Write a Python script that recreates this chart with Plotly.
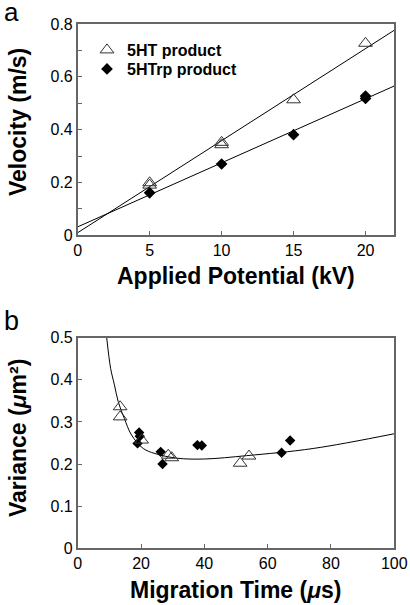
import numpy as np
import plotly.graph_objects as go

# ---- Panel a data ----
potential_ht = [5, 5, 10, 10, 15, 20]
velocity_ht = [0.19, 0.199, 0.343, 0.352, 0.513, 0.727]
potential_trp = [5, 10, 15, 20, 20]
velocity_trp = [0.161, 0.270, 0.381, 0.518, 0.527]

# ---- Panel b data ----
time_ht = [13.4, 13.4, 20.2, 28.6, 29.7, 51.3, 54.1]
var_ht = [0.336, 0.312, 0.257, 0.221, 0.215, 0.202, 0.219]
time_trp = [19.4, 19.6, 18.9, 26.2, 26.8, 37.8, 39.2, 64.4, 67.1]
var_trp = [0.275, 0.266, 0.249, 0.229, 0.200, 0.245, 0.244, 0.227, 0.256]
# fitted curve
curve_t = [9.16, 10.4, 11.6, 12.8, 14.7, 17.0, 20.7, 24.4, 31.3, 40, 53.4, 74.4, 100]
curve_v = [0.5, 0.427, 0.388, 0.348, 0.309, 0.269, 0.237, 0.225, 0.214, 0.212, 0.220, 0.237, 0.272]

FW, FH = 410, 605
def fx(x): return x / FW
def fy(y): return 1 - y / FH

fig = go.Figure()

# linear fits for panel a
xfit = np.array([0, 22])
for xs, ys in [(potential_ht, velocity_ht), (potential_trp, velocity_trp)]:
    m, b = np.polyfit(xs, ys, 1)
    fig.add_trace(go.Scatter(x=xfit, y=m * xfit + b, mode="lines",
                             line=dict(color="black", width=1), showlegend=False,
                             xaxis="x", yaxis="y", hoverinfo="skip"))

fig.add_trace(go.Scatter(x=potential_ht, y=velocity_ht, mode="markers", name="5HT product",
                         marker=dict(symbol="triangle-up-open", size=12, color="#333",
                                     line=dict(width=1)),
                         xaxis="x", yaxis="y", legend="legend"))
fig.add_trace(go.Scatter(x=potential_trp, y=velocity_trp, mode="markers", name="5HTrp product",
                         marker=dict(symbol="diamond", size=9, color="black"),
                         xaxis="x", yaxis="y", legend="legend2"))

# panel b
fig.add_trace(go.Scatter(x=curve_t, y=curve_v, mode="lines", line=dict(color="black", width=1, shape="spline"),
                         showlegend=False, xaxis="x2", yaxis="y2", hoverinfo="skip"))
fig.add_trace(go.Scatter(x=time_trp, y=var_trp, mode="markers", showlegend=False,
                         marker=dict(symbol="diamond", size=8, color="black"),
                         xaxis="x2", yaxis="y2"))
fig.add_trace(go.Scatter(x=time_ht, y=var_ht, mode="markers", showlegend=False,
                         marker=dict(symbol="triangle-up-open", size=12, color="#333",
                                     line=dict(width=1)),
                         xaxis="x2", yaxis="y2"))

xd = [fx(77.7), fx(394.3)]
ax_common = dict(showline=True, linecolor="#666", linewidth=1.5, mirror=True,
                 ticks="inside", ticklen=5, tickcolor="#666", tickwidth=1.2,
                 showgrid=False, zeroline=False, automargin=False,
                 tickfont=dict(family="Liberation Sans", size=16, color="black"))

leg_common = dict(xanchor="left", yanchor="middle", bgcolor="rgba(0,0,0,0)",
                  font=dict(family="Liberation Sans", size=16, color="black", weight="bold"),
                  itemwidth=30)

fig.update_layout(
    width=FW, height=FH, margin=dict(l=0, r=0, t=0, b=0, pad=0, autoexpand=False),
    paper_bgcolor="white", plot_bgcolor="white",
    font=dict(family="Liberation Sans", color="black"),
    xaxis=dict(domain=xd, range=[0, 22], dtick=5, anchor="y", **ax_common),
    yaxis=dict(domain=[fy(235.3), fy(24)], range=[0, 0.8], dtick=0.2, anchor="x",
               minor=dict(dtick=0.1, ticks="inside", ticklen=5, tickcolor="#666"), **ax_common),
    xaxis2=dict(domain=xd, range=[0, 100], dtick=20, anchor="y2", **ax_common),
    yaxis2=dict(domain=[fy(548.3), fy(337.7)], range=[0, 0.5], dtick=0.1, anchor="x2", **ax_common),
    legend=dict(x=fx(87), y=fy(50), **leg_common),
    legend2=dict(x=fx(87), y=fy(69), **leg_common),
    showlegend=True,
)

title_font = dict(family="Liberation Sans", size=23, color="black", weight="bold")
anns = [
    dict(text="a", x=fx(11), y=fy(12), font=dict(family="Liberation Sans", size=26)),
    dict(text="b", x=fx(11), y=fy(321), font=dict(family="Liberation Sans", size=27)),
    dict(text="Applied Potential (kV)", x=fx(236), y=fy(276), font=title_font),
    dict(text="Velocity (m/s)", x=fx(18), y=fy(122), font=title_font, textangle=-90),
    dict(text="Migration Time (<i>μ</i>s)", x=fx(236), y=fy(590), font=title_font),
    dict(text="Variance (<i>μ</i>m²)", x=fx(18), y=fy(438), font=title_font, textangle=-90),
]
for a in anns:
    fig.add_annotation(xref="paper", yref="paper", showarrow=False, xanchor="center", yanchor="middle", **a)

fig.write_html("out.html", config={"displayModeBar": False},
               post_script="document.body.style.margin='0';document.body.style.overflow='hidden';")
